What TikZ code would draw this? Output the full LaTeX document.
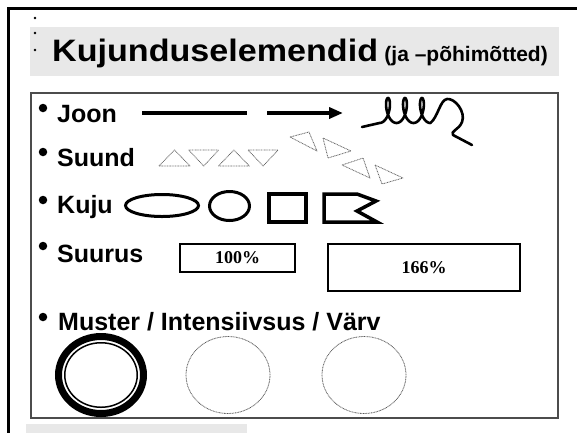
\documentclass[tikz,border=0pt]{standalone}
\usepackage{fontspec}
\setmainfont{Liberation Sans}
\newfontfamily\pctfont{Liberation Serif}
\usetikzlibrary{shapes,arrows.meta}

\begin{document}
\begin{tikzpicture}[x=1pt,y=-1pt,
itm/.style={font=\fontsize{25}{30}\selectfont\bfseries,anchor=base west,inner sep=0pt},
bul/.style={circle,fill=black,inner sep=0pt,minimum size=8.5pt},
sbul/.style={circle,fill=black,inner sep=0pt,minimum size=2.6pt},
tri/.style={draw=black!60,line width=0.8pt,dash pattern=on 0.9pt off 0.7pt,line join=round},
dotc/.style={ellipse,draw=black!65,line width=0.8pt,dash pattern=on 0.9pt off 0.7pt,minimum width=84pt,minimum height=77pt,inner sep=0pt},
shp/.style={draw=black,line width=3pt,inner sep=0pt},
pct/.style={rectangle,draw=black,line width=2.4pt,inner sep=0pt,font=\pctfont\fontsize{18}{20}\selectfont\bfseries}]
	\useasboundingbox[fill=white] (0,0) rectangle (577,432);
	%frame and title
	\draw[line width=3pt] (8,434) -- (8,8) -- (579,8);
	\fill[black!9] (30,27) rectangle (559,76);
	\fill[black!9] (26,424) rectangle (247,434);
	\node[sbul] (sb1) at (35,18) {};
	\node[sbul] (sb2) at (35,33) {};
	\node[sbul] (sb3) at (35,50) {};
	\node[anchor=base west,inner sep=0pt,font=\fontsize{31}{36}\selectfont\bfseries] (ttl) at (52,61) {\scalebox{1.1}[1]{Kujunduselemendid}};
	\node[anchor=base west,inner sep=0pt,font=\fontsize{21}{24}\selectfont\bfseries] (ttl2) at ([xshift=6pt]ttl.base east) {(ja –põhimõtted)};
	\draw[black!70,line width=1.3pt] (31,93) rectangle (558,418);
	%items
	\node[bul] (b1) at (43,108) {};
	\node[itm] (joon) at (57,122) {Joon};
	\node[bul] (b2) at (43,152) {};
	\node[itm] (suund) at (57,166) {Suund};
	\node[bul] (b3) at (43,200) {};
	\node[itm] (kuju) at (57,213) {Kuju};
	\node[bul] (b4) at (43,246) {};
	\node[itm] (suurus) at (57,262) {Suurus};
	\node[bul] (b5) at (43,317) {};
	\node[itm] (muster) at (58,330) {Muster / Intensiivsus / Värv};
	%joon
	\coordinate (l1) at (142,113);
	\coordinate (l2) at (247,113);
	\coordinate (a1) at (267,113);
	\coordinate (a2) at (343,113);
	\coordinate (w1) at (362,127);
	\coordinate (w2) at (472,145);
	\draw[line width=4pt] (l1) -- (l2);
	\draw[line width=4pt,-{Triangle[length=14pt,width=11pt]}] (a1) -- (a2);
	\draw[line width=2.6pt,line cap=round,line join=round] (w1) -- plot[domain=-180:900,samples=160,variable=\t] ({388+2.7*\t*pi/180-5.5*sin(\t)},{123-12.5*(1+cos(\t))})
		.. controls (438,117) and (440,100) .. (447,99) .. controls (455,98) and (466,112) .. (462,122)
		.. controls (459,130) and (450,131) .. (453,135) -- (w2);
	%suund
	\foreach \x in {159,218.4} {
		\draw[tri] (\x,166) -- ++(31,0) -- ++(-15.5,-16) -- cycle;
		\draw[tri] (\x+29.7,150) -- ++(30,0) -- ++(-15,16) -- cycle;
	}
	\draw[tri] (290,137) -- (309,132) -- (317,151) -- cycle;
	\draw[tri] (323,138) -- (328,158) -- (351,151) -- cycle;
	\draw[tri] (342,165) -- (363,158) -- (370,178) -- cycle;
	\draw[tri] (375,165) -- (382,184) -- (403,178) -- cycle;
	%kuju
	\node[ellipse,shp,minimum width=73pt,minimum height=22pt] (ell) at (162,205.5) {};
	\node[ellipse,shp,minimum width=40pt,minimum height=29pt] (circ) at (229.5,206) {};
	\node[rectangle,shp,line width=4pt,minimum width=37pt,minimum height=28pt] (sq) at (287.5,208) {};
	\draw[line width=3.5pt,line join=miter] (324,194) -- (357,194) -- (376,201) -- (357,211) -- (377,222) -- (324,222) -- cycle;
	%suurus
	\node[pct,minimum width=114.5pt,minimum height=27.5pt] (p100) at (237.5,258) {100\%};
	\node[pct,minimum width=191.5pt,minimum height=46.5pt] (p166) at (424,267.5) {166\%};
	%muster
	\node[ellipse,draw,line width=7pt,minimum width=85pt,minimum height=77pt,inner sep=0pt] (c1) at (101,375) {};
	\node[ellipse,draw,line width=1.5pt,minimum width=72.5pt,minimum height=64.5pt,inner sep=0pt] (c1i) at (c1) {};
	\node[dotc] (c2) at (228,375) {};
	\node[dotc] (c3) at (364,375) {};
\end{tikzpicture}
\end{document}
